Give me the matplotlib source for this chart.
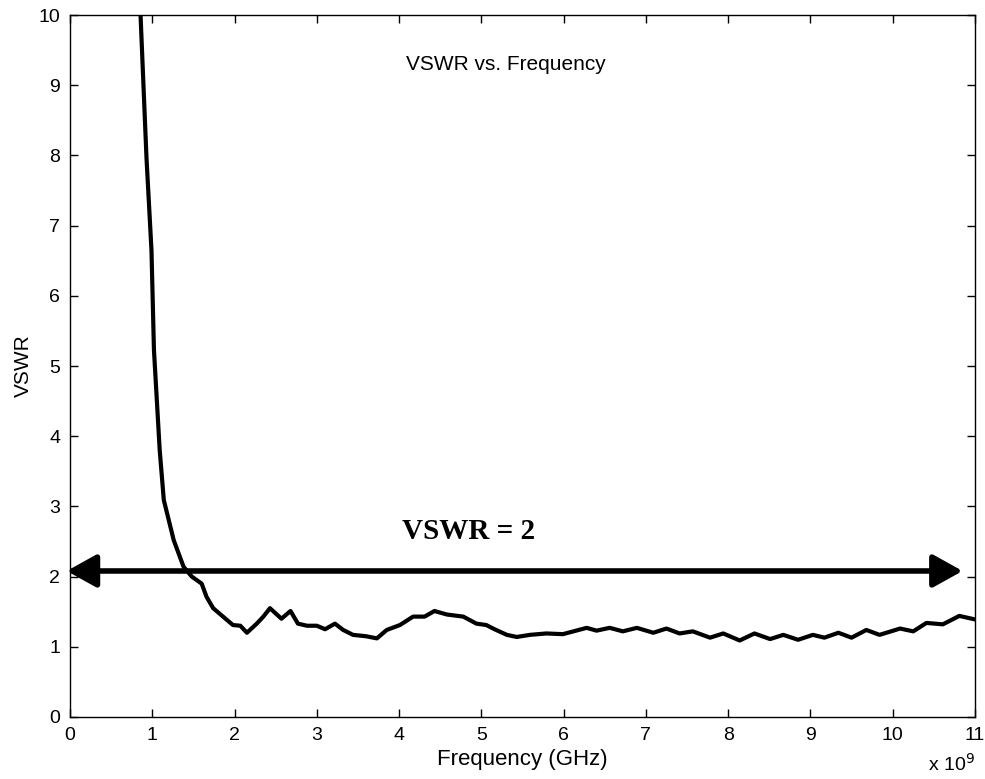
import matplotlib
matplotlib.use("Agg")
import matplotlib.pyplot as plt
import numpy as np

plt.rcParams['font.family'] = ['Liberation Sans', 'DejaVu Sans']

# frequency in GHz (axis shows values x 10^9), VSWR
freq_ghz = [0.85, 0.90, 0.93, 0.99, 1.02, 1.09, 1.14, 1.26, 1.38, 1.48, 1.60,
            1.66, 1.74, 1.84, 1.98, 2.07, 2.15, 2.27, 2.35, 2.43, 2.57, 2.68,
            2.77, 2.88, 3.00, 3.10, 3.22, 3.32, 3.44, 3.60, 3.73, 3.85, 4.01,
            4.17, 4.31, 4.43, 4.58, 4.78, 4.94, 5.06, 5.16, 5.31, 5.43, 5.59,
            5.79, 5.99, 6.12, 6.28, 6.40, 6.56, 6.72, 6.89, 7.09, 7.25, 7.41,
            7.57, 7.78, 7.94, 8.14, 8.32, 8.51, 8.67, 8.85, 9.03, 9.17, 9.34,
            9.50, 9.68, 9.84, 10.09, 10.25, 10.41, 10.61, 10.81, 11.0]
vswr = [10.2, 8.79, 7.95, 6.65, 5.23, 3.80, 3.09, 2.52, 2.14, 2.00, 1.90,
        1.71, 1.55, 1.45, 1.31, 1.30, 1.20, 1.33, 1.43, 1.55, 1.40, 1.51,
        1.33, 1.30, 1.30, 1.25, 1.33, 1.24, 1.17, 1.15, 1.12, 1.24, 1.31,
        1.43, 1.43, 1.51, 1.46, 1.43, 1.33, 1.31, 1.25, 1.17, 1.14, 1.17,
        1.19, 1.18, 1.22, 1.27, 1.23, 1.27, 1.22, 1.27, 1.20, 1.26, 1.19,
        1.22, 1.13, 1.19, 1.09, 1.19, 1.11, 1.17, 1.10, 1.17, 1.13, 1.20,
        1.13, 1.24, 1.17, 1.26, 1.22, 1.34, 1.32, 1.44, 1.39]

vswr_limit = 2.08
arrow_x = (-0.04, 10.85)

fig = plt.figure(figsize=(9.85, 7.79), dpi=100)
ax = fig.add_axes([0.0711, 0.0796, 0.9187, 0.9011])

ax.plot(freq_ghz, vswr, color='k', lw=3)

ax.annotate('', xy=(arrow_x[1], vswr_limit), xytext=(arrow_x[0], vswr_limit),
            arrowprops=dict(arrowstyle='<|-|>,head_length=0.9,head_width=0.5',
                            mutation_scale=20, lw=4, color='k',
                            shrinkA=0, shrinkB=0),
            annotation_clip=False)

ax.text(4.85, 2.64, 'VSWR = 2', family='Liberation Serif', weight='bold',
        fontsize=21, ha='center', va='center')
ax.text(5.3, 9.3, 'VSWR vs. Frequency', fontsize=15, ha='center', va='center')

ax.set_xlim(0, 11)
ax.set_ylim(0, 10)
ax.set_xticks(range(0, 12))
ax.set_yticks(range(0, 11))
ax.tick_params(direction='in', top=True, right=True, length=6, width=1,
               labelsize=14, pad=7)
for s in ax.spines.values():
    s.set_linewidth(1)

ax.set_xlabel('Frequency (GHz)', fontsize=16, labelpad=4)
ax.set_ylabel('VSWR', fontsize=15, labelpad=4)
fig.text(0.9655, 0.006, r'x 10$^9$', fontsize=14, ha='center', va='bottom')

fig.savefig('out.png', dpi=100)
